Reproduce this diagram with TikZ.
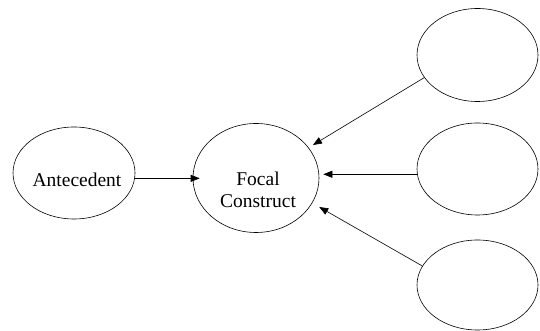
\documentclass[tikz,border=0pt]{standalone}
\usepackage{fontspec}
\setmainfont{Liberation Serif}
\usetikzlibrary{shapes.geometric,arrows.meta}
\begin{document}
\begin{tikzpicture}[x=1pt,y=1pt,
  oval/.style={draw, ellipse, line width=0.6pt, inner sep=0pt},
  lbl/.style={align=center, inner sep=0pt, font=\fontsize{19.5}{21.5}\selectfont},
  arr/.style={draw, line width=0.6pt, -{Triangle[length=9pt,width=7pt]}}]
  \useasboundingbox (0,0) rectangle (540,331);
  % constructs
  \node[oval, minimum width=122pt, minimum height=92pt]  (ante)  at (74,158) {};
  \node[oval, minimum width=126pt, minimum height=109pt] (focal) at (256,153) {};
  \node[oval, minimum width=121pt, minimum height=93pt]  (r1)    at (477.5,276) {};
  \node[oval, minimum width=121pt, minimum height=92pt]  (r2)    at (477.5,162) {};
  \node[oval, minimum width=121pt, minimum height=90pt]  (r3)    at (477.5,46) {};
  % labels
  \node[lbl] (anteText)  at ([xshift=3pt,yshift=-7pt]ante.center) {Antecedent};
  \node[lbl] (focalText) at ([xshift=2pt,yshift=-12pt]focal.center) {Focal\\Construct};
  % connectors
  \draw[arr, shorten >=-7pt] (ante.-5) -- (ante.-5 -| focal.west);
  \draw[arr, shorten >=4pt] (r2.185) -- (r2.185 -| focal.east);
  \draw[arr, shorten >=5pt] (r1.203) -- (focal.30);
  \draw[arr, shorten >=8pt] (r3.161) -- (focal.-24);
\end{tikzpicture}
\end{document}
